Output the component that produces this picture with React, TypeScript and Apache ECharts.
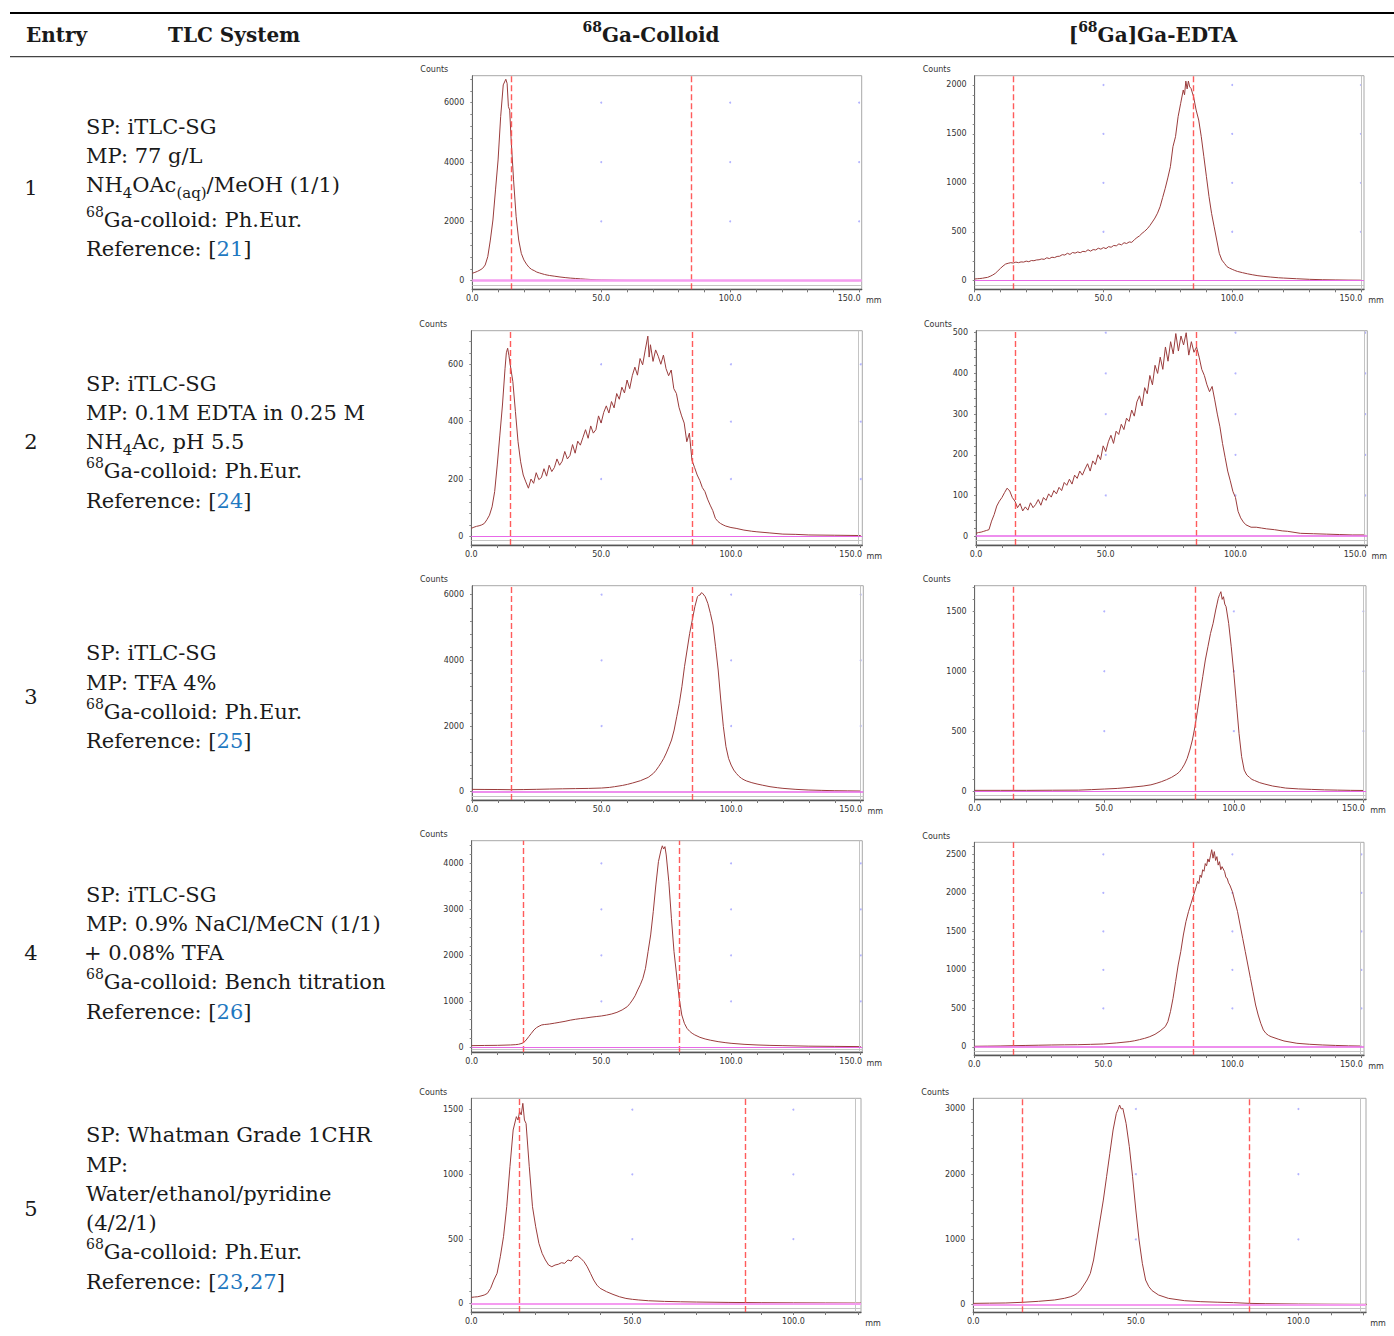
import React, { useEffect, useRef } from "react";
import * as echarts from "echarts";

type Pt = [number, number];

// ---------------- DATA (mm, counts) ----------------
const colloid1: Pt[] = [[0,250],[1,280],[2,315],[3,360],[4,415],[5,530],[6,810],[7,1370],[8,2045],[9,3060],[10,4070],[11,5530],[12,6600],[13,6790],[13.5,6650],[14,5870],[14.5,5750],[15,4850],[16,3400],[17,2160],[18,1370],[19,920],[20,700],[21,560],[22,450],[23,380],[24,340],[25,290],[26,262],[27,235],[28,210],[29,190],[30,175],[32,150],[34,125],[36,105],[38,88],[40,75],[42,62],[44,50],[46,40],[48,30],[50,25],[53,20],[56,14],[60,10],[70,8],[80,6],[90,6],[100,5],[110,5],[120,4],[130,4],[140,3],[150,3]];
const edta1: Pt[] = [[0,17],[1,20],[2,22],[3,25],[4,30],[5,34],[6,45],[7,58],[8,75],[9,100],[10,126],[11,150],[12,170],[13,178],[14,184],[15,180],[16,190],[17,184],[18,192],[19,190],[20,200],[21,194],[22,206],[23,204],[24,212],[25,214],[26,222],[27,218],[28,234],[29,226],[30,240],[31,236],[32,248],[33,250],[34,266],[35,262],[36,280],[37,268],[38,288],[39,282],[40,294],[41,286],[42,300],[43,296],[44,316],[45,302],[46,318],[47,314],[48,332],[49,322],[50,338],[51,328],[52,348],[53,342],[54,360],[55,356],[56,376],[57,366],[58,388],[59,380],[60,396],[61,392],[62,418],[63,440],[64,458],[65,484],[66,505],[67,530],[68,562],[69,600],[70,640],[71,690],[72,756],[73,850],[74,944],[75,1050],[76,1165],[77,1370],[78,1472],[79,1676],[80,1813],[81,1949],[81.5,1900],[82,2040],[82.5,1960],[83,2040],[83.5,1980],[84,1966],[85,1881],[86,1744],[87,1642],[88,1472],[89,1268],[90,1063],[91,859],[92,688],[93,552],[94,416],[95,279],[96,211],[97,177],[98,143],[99,128],[100,116],[101,105],[102,95],[104,82],[106,70],[108,60],[110,51],[112,45],[115,37],[118,30],[120,27],[125,20],[130,14],[135,10],[140,8],[145,6],[150,5]];
const colloid2: Pt[] = [[0,28],[1,32],[2,35],[3,37],[4,40],[5,45],[6,58],[7,74],[8,103],[9,156],[10,249],[11,353],[12,458],[13,586],[13.5,640],[14,656],[14.5,630],[15,598],[16,540],[17,435],[18,330],[19,260],[20,214],[21,190],[22,168],[23,200],[24,185],[25,222],[26,198],[27,205],[28,236],[29,210],[30,248],[31,226],[32,240],[33,270],[34,248],[35,262],[36,296],[37,270],[38,282],[39,320],[40,290],[41,332],[42,318],[43,345],[44,372],[45,342],[46,385],[47,360],[48,372],[49,420],[50,395],[51,432],[52,455],[53,430],[54,470],[55,448],[56,498],[57,478],[58,520],[59,500],[60,545],[61,515],[62,560],[63,590],[64,562],[65,620],[66,598],[67,650],[68,698],[68.5,625],[69,668],[70,610],[71,650],[72,628],[73,600],[74,632],[75,585],[76,560],[77,580],[78,515],[79,498],[80,450],[81,420],[82,395],[83,330],[84,360],[85,265],[86,240],[87,214],[88,195],[89,170],[90,156],[91,130],[92,109],[93,90],[94,63],[95,52],[96,45],[97,40],[98,36],[100,31],[102,28],[105,22],[108,18],[110,16],[115,12],[120,8],[125,7],[130,5],[140,4],[150,3]];
const edta2: Pt[] = [[0,7],[1,9],[2,10],[3,12],[4,14],[5,16],[6,37],[7,53],[8,74],[9,86],[10,95],[11,107],[12,118],[13,111],[14,95],[15,86],[16,70],[17,80],[18,62],[19,72],[20,64],[21,82],[22,70],[23,78],[24,90],[25,76],[26,95],[27,88],[28,104],[29,96],[30,112],[31,104],[32,120],[33,112],[34,132],[35,125],[36,140],[37,128],[38,150],[39,142],[40,160],[41,150],[42,165],[43,178],[44,160],[45,185],[46,176],[47,200],[48,188],[49,222],[50,208],[51,232],[52,248],[53,228],[54,258],[55,250],[56,275],[57,262],[58,290],[59,282],[60,310],[61,295],[62,330],[63,345],[64,320],[65,365],[66,350],[67,395],[68,372],[69,420],[70,400],[71,440],[72,410],[73,465],[74,430],[75,478],[76,448],[77,498],[78,455],[79,492],[80,470],[81,500],[82,445],[83,478],[84,452],[85,465],[86,440],[87,410],[88,395],[89,372],[90,355],[91,368],[92,335],[93,300],[94,269],[95,228],[96,194],[97,160],[98,136],[99,110],[100,95],[101,61],[102,45],[103,35],[104,28],[106,22],[108,22],[110,20],[112,18],[115,16],[118,13],[120,12],[125,7],[130,6],[135,5],[140,4],[145,3],[150,3]];
const colloid3: Pt[] = [[0,71],[5,68],[10,66],[15,61],[20,65],[25,72],[30,81],[35,88],[40,94],[45,100],[50,112],[53,130],[55,152],[58,190],[60,223],[62,265],[65,335],[68,436],[70,558],[71,650],[72,761],[73,880],[74,1015],[75,1180],[76,1371],[77,1574],[78,1878],[79,2284],[80,2690],[81,3198],[82,3807],[83,4315],[84,4822],[85,5228],[86,5635],[87,5939],[87.5,5980],[88,5990],[88.5,6060],[89,6041],[89.5,5990],[90,5939],[91,5736],[92,5431],[93,5076],[94,4416],[95,3706],[96,2792],[97,1980],[98,1371],[99,1015],[100,812],[101,660],[102,558],[103,470],[104,406],[105,360],[106,325],[108,274],[110,234],[112,200],[115,152],[118,120],[120,102],[125,71],[130,51],[135,40],[140,30],[145,25],[150,20]];
const edta3: Pt[] = [[0,6],[10,6],[20,6],[30,7],[40,8],[45,12],[50,17],[55,22],[60,31],[65,42],[68,52],[70,64],[72,78],[74,95],[76,115],[78,142],[79,160],[80,189],[81,225],[82,273],[83,342],[84,426],[85,537],[86,676],[87,815],[88,955],[89,1094],[90,1205],[91,1316],[92,1400],[93,1511],[93.5,1560],[94,1609],[94.5,1640],[95,1664],[95.5,1600],[96,1622],[96.5,1560],[97,1539],[98,1400],[99,1205],[100,982],[101,732],[102,481],[103,287],[104,175],[105,134],[106,115],[107,97],[108,88],[110,70],[112,58],[115,42],[118,32],[120,25],[125,18],[130,14],[135,10],[140,8],[145,6],[150,5]];
const colloid4: Pt[] = [[0,36],[5,40],[10,43],[15,51],[17,58],[18,65],[19,80],[20,101],[21,159],[22,232],[23,304],[24,377],[25,428],[26,460],[27,486],[28,495],[29,500],[30,507],[32,525],[34,545],[36,565],[38,590],[40,609],[42,625],[44,638],[46,655],[48,668],[50,681],[52,700],[54,725],[56,760],[58,812],[60,884],[61,950],[62,1029],[63,1120],[64,1246],[65,1360],[66,1500],[67,1717],[68,2080],[69,2442],[70,2949],[71,3529],[72,4036],[73,4290],[73.5,4380],[74,4310],[74.5,4362],[75,4181],[76,3601],[77,2804],[78,2080],[79,1572],[80,1065],[81,703],[82,522],[83,413],[84,350],[85,304],[86,270],[88,217],[90,181],[92,155],[95,123],[98,100],[100,87],[105,65],[110,51],[115,42],[120,36],[130,25],[140,20],[150,15]];
const edta4: Pt[] = [[0,9],[5,11],[10,13],[15,17],[20,20],[25,23],[30,26],[35,28],[40,30],[45,34],[50,39],[55,52],[60,69],[62,80],[64,95],[65,104],[66,112],[68,134],[70,164],[72,208],[74,264],[75,329],[76,458],[77,631],[78,848],[79,1064],[80,1237],[81,1453],[82,1626],[83,1756],[84,1864],[85,1972],[86,2080],[86.5,2150],[87,2120],[87.5,2230],[88,2200],[88.5,2300],[89,2280],[89.5,2380],[90,2350],[90.5,2440],[91,2400],[91.5,2480],[92,2560],[92.5,2450],[93,2535],[93.5,2420],[94,2470],[94.5,2360],[95,2405],[95.5,2300],[96,2340],[97,2275],[97.5,2200],[98,2189],[98.5,2130],[99,2102],[100,2016],[101,1886],[102,1756],[103,1583],[104,1410],[105,1237],[106,1064],[107,891],[108,718],[109,545],[110,415],[111,307],[112,221],[113,177],[114,150],[115,134],[118,99],[120,78],[125,48],[130,35],[135,26],[140,20],[145,15],[150,12]];
const colloid5: Pt[] = [[0,49],[1,52],[2,54],[3,60],[4,67],[5,80],[6,119],[7,183],[8,235],[9,363],[10,518],[11,750],[12,1059],[13,1343],[14,1446],[14.5,1420],[15,1485],[15.5,1460],[16,1549],[16.5,1420],[17,1394],[18,1059],[19,750],[20,595],[21,466],[22,389],[23,338],[24,299],[25,286],[26,299],[27,305],[28,317],[29,312],[30,338],[31,330],[32,363],[33,369],[34,351],[35,325],[36,286],[37,235],[38,183],[39,144],[40,119],[42,93],[44,72],[46,54],[48,41],[50,34],[52,29],[55,23],[60,18],[65,15],[70,13],[80,10],[90,8],[100,7],[110,6],[121,5]];
const edta5: Pt[] = [[0,20],[5,23],[10,26],[15,36],[20,51],[25,72],[28,97],[30,123],[31,145],[32,174],[33,225],[34,301],[35,378],[36,480],[37,685],[38,991],[39,1298],[40,1604],[41,1962],[42,2320],[43,2678],[44,2933],[44.5,2990],[45,3061],[45.5,3000],[46,3010],[47,2780],[48,2422],[49,1962],[50,1451],[51,991],[52,634],[53,378],[54,276],[55,215],[57,148],[60,97],[65,61],[70,46],[75,38],[80,31],[85,20],[90,15],[100,10],[110,7],[121,5]];

// tick labels
const xTicksLong = [0, 50, 100, 150];
const xTicksShort = [0, 50, 100];
const yTicks6000 = [0, 2000, 4000, 6000];
const yTicks2000 = [0, 500, 1000, 1500, 2000];
const yTicks600 = [0, 200, 400, 600];
const yTicks500 = [0, 100, 200, 300, 400, 500];
const yTicks1500 = [0, 500, 1000, 1500];
const yTicks4000 = [0, 1000, 2000, 3000, 4000];
const yTicks2500 = [0, 500, 1000, 1500, 2000, 2500];
const yTicks3000 = [0, 1000, 2000, 3000];

// Rf window markers (mm)
const window15_85 = [15, 85];
const window20_80 = [20, 80];

// table text
const headerTexts = ["Entry", "TLC System", "{sup|68}Ga-Colloid", "[{sup|68}Ga]Ga-EDTA"];
const entryLabels = ["1", "2", "3", "4", "5"];
const tlcRows: string[][] = [
  ["SP: iTLC-SG", "MP: 77 g/L", "NH{sub|4}OAc{sub|(aq)}/MeOH (1/1)", "{sup|68}Ga-colloid: Ph.Eur.", "Reference: [{ref|21}]"],
  ["SP: iTLC-SG", "MP: 0.1M EDTA in 0.25 M", "NH{sub|4}Ac, pH 5.5", "{sup|68}Ga-colloid: Ph.Eur.", "Reference: [{ref|24}]"],
  ["SP: iTLC-SG", "MP: TFA 4%", "{sup|68}Ga-colloid: Ph.Eur.", "Reference: [{ref|25}]"],
  ["SP: iTLC-SG", "MP: 0.9% NaCl/MeCN (1/1)", "+ 0.08% TFA", "{sup|68}Ga-colloid: Bench titration", "Reference: [{ref|26}]"],
  ["SP: Whatman Grade 1CHR", "MP:", "Water/ethanol/pyridine", "(4/2/1)", "{sup|68}Ga-colloid: Ph.Eur.", "Reference: [{ref|23},{ref|27}]"],
];

// ---------------- LAYOUT ----------------
const rowLineY = [
  [127, 156, 185, 220, 249],
  [384, 413, 442, 471, 501],
  [653, 683, 712, 741],
  [895, 924, 953, 982, 1012],
  [1135, 1165, 1194, 1223, 1252, 1282],
];
const entryY = [188, 442, 697, 953, 1209];

const panels = [
  { data: colloid1, l: 472.3, t: 75.7, r: 861.7, b: 289.3, xMax: 151, yMin: -290, yMax: 6910, yL: yTicks6000, minor: 400, xL: xTicksLong, win: window15_85, zw: 2.5, end: 0 },
  { data: edta1, l: 974.7, t: 75.7, r: 1364, b: 289.3, xMax: 151.2, yMin: -88, yMax: 2095, yL: yTicks2000, minor: 100, xL: xTicksLong, win: window15_85, zw: 1.2, end: 150 },
  { data: colloid2, l: 471.3, t: 330.7, r: 862.3, b: 545, xMax: 150.6, yMin: -30, yMax: 717, yL: yTicks600, minor: 40, xL: xTicksLong, win: window15_85, zw: 1.2, end: 149.2 },
  { data: edta2, l: 976, t: 330.7, r: 1367.3, b: 545, xMax: 150.8, yMin: -21.7, yMax: 505, yL: yTicks500, minor: 20, xL: xTicksLong, win: window15_85, zw: 1.6, end: 149.5 },
  { data: colloid3, l: 472, t: 585.7, r: 863.3, b: 800, xMax: 151, yMin: -253, yMax: 6274, yL: yTicks6000, minor: 400, xL: xTicksLong, win: window15_85, zw: 1.6, end: 150 },
  { data: edta3, l: 974.7, t: 585.7, r: 1366, b: 799.7, xMax: 151, yMin: -72, yMax: 1714, yL: yTicks1500, minor: 100, xL: xTicksLong, win: window15_85, zw: 1.2, end: 150 },
  { data: colloid4, l: 471.7, t: 840.7, r: 862.3, b: 1052, xMax: 150.6, yMin: -102, yMax: 4491, yL: yTicks4000, minor: 200, xL: xTicksLong, win: window20_80, zw: 1.2, end: 149.5 },
  { data: edta4, l: 974.3, t: 842.3, r: 1364, b: 1055, xMax: 151, yMin: -104, yMax: 2656, yL: yTicks2500, minor: 100, xL: xTicksLong, win: window15_85, zw: 1.6, end: 149.5 },
  { data: colloid5, l: 471.3, t: 1098.3, r: 861, b: 1312, xMax: 121, yMin: -64, yMax: 1588, yL: yTicks1500, minor: 100, xL: xTicksShort, win: window15_85, zw: 2.2, end: 119.2 },
  { data: edta5, l: 973.3, t: 1098.3, r: 1366, b: 1312.3, xMax: 120.8, yMin: -117, yMax: 3164, yL: yTicks3000, minor: 200, xL: xTicksShort, win: window15_85, zw: 2.2, end: 119 },
];

const SERIF = '"DejaVu Serif", "Liberation Serif", serif';
const SANS = '"DejaVu Sans", "Liberation Sans", Arial, sans-serif';
const TXT = "#1a1a1a";
const LINK = "#1f78c1";
const TICK_FS = 8;

function richStyles(size: number, bold: boolean) {
  const fw = bold ? "bold" : "normal";
  return {
    sup: { fontSize: Math.round(size * 0.68), fontFamily: SERIF, fontWeight: fw, fill: TXT, verticalAlign: "top", lineHeight: 14 },
    sub: { fontSize: Math.round(size * 0.72), fontFamily: SERIF, fontWeight: fw, fill: TXT, verticalAlign: "bottom", lineHeight: 13 },
    ref: { fontSize: size, fontFamily: SERIF, fontWeight: fw, fill: LINK, lineHeight: 30 },
  };
}

function textEl(text: string, x: number, y: number, size: number, bold: boolean, align: string) {
  return {
    type: "text",
    x,
    y,
    silent: true,
    style: {
      text,
      fontFamily: SERIF,
      fontSize: size,
      fontWeight: bold ? "bold" : "normal",
      fill: TXT,
      align,
      verticalAlign: "middle",
      lineHeight: 30,
      rich: richStyles(size, bold),
    },
  };
}

function buildOption() {
  const graphic: any[] = [];
  graphic.push({ type: "rect", shape: { x: 10, y: 12, width: 1384, height: 2 }, style: { fill: "#000" }, silent: true });
  graphic.push({ type: "rect", shape: { x: 10, y: 56, width: 1384, height: 1.3 }, style: { fill: "#444" }, silent: true });
  graphic.push(textEl(headerTexts[0], 26, 35, 20, true, "left"));
  graphic.push(textEl(headerTexts[1], 168, 35, 20, true, "left"));
  graphic.push(textEl(headerTexts[2], 651, 35, 20, true, "center"));
  graphic.push(textEl(headerTexts[3], 1153, 35, 20, true, "center"));
  tlcRows.forEach((lines, i) => {
    graphic.push(textEl(entryLabels[i], 31, entryY[i], 21, false, "center"));
    lines.forEach((ln, j) => {
      const x = ln.startsWith("+") ? 84 : 86;
      graphic.push(textEl(ln, x, rowLineY[i][j], 21, false, "left"));
    });
  });
  panels.forEach((p) => {
    graphic.push({ type: "text", x: p.l - 38, y: p.t - 6, silent: true, style: { text: "Counts", fontFamily: SANS, fontSize: TICK_FS, fill: "#333", align: "center", verticalAlign: "middle" } });
    graphic.push({ type: "text", x: p.r + 12, y: p.b + 11, silent: true, style: { text: "mm", fontFamily: SANS, fontSize: TICK_FS, fill: "#333", align: "center", verticalAlign: "middle" } });
  });

  const grid = panels.map((p) => ({
    left: p.l,
    top: p.t,
    width: p.r - p.l,
    height: p.b - p.t,
    show: true,
    borderColor: "#a8a8a8",
    borderWidth: 1,
    containLabel: false,
    outerBoundsMode: "none",
  }));

  const xAxis = panels.map((p, i) => {
    const ticks: number[] = [];
    for (let v = 0; v <= p.xMax; v += 10) ticks.push(v);
    return {
      gridIndex: i,
      type: "value",
      min: 0,
      max: p.xMax,
      axisLine: { show: true, onZero: false, lineStyle: { color: "#555", width: 1.3 } },
      axisTick: { show: true, customValues: ticks, length: 3, lineStyle: { color: "#777", width: 1 } },
      axisLabel: {
        customValues: p.xL,
        formatter: (v: number) => (v === 150 ? "{r|150.0}" : v.toFixed(1)),
        rich: { r: { fontSize: TICK_FS, color: "#333", fontFamily: SANS, padding: [0, 20, 0, 0] } },
        fontSize: TICK_FS,
        color: "#333",
        fontFamily: SANS,
        margin: 5,
      },
      splitLine: { show: false },
    };
  });

  const yAxis = panels.map((p, i) => {
    const ticks: number[] = [];
    for (let v = 0; v <= p.yMax; v += p.minor) ticks.push(v);
    return {
      gridIndex: i,
      type: "value",
      min: p.yMin,
      max: p.yMax,
      axisLine: { show: true, onZero: false, lineStyle: { color: "#666", width: 1 } },
      axisTick: { show: true, customValues: ticks, length: 2, lineStyle: { color: "#888", width: 1 } },
      axisLabel: { customValues: p.yL, formatter: (v: number) => String(v), fontSize: TICK_FS, color: "#333", fontFamily: SANS, margin: 8 },
      splitLine: { show: false },
    };
  });

  const series: any[] = [];
  panels.forEach((p, i) => {
    const dots: number[][] = [];
    [50, 100, 150].forEach((x) => {
      if (x <= p.xMax) p.yL.forEach((y) => { if (y !== 0) dots.push([x, y]); });
    });
    series.push({
      type: "scatter", xAxisIndex: i, yAxisIndex: i, data: dots, symbolSize: 2,
      itemStyle: { color: "#a0a0ff" }, silent: true, z: 1,
    });
    const grayLines: any[] = [{ yAxis: p.yMin * 0.5 }];
    if (p.end) grayLines.push({ xAxis: p.end });
    series.push({
      type: "line", xAxisIndex: i, yAxisIndex: i, data: [], silent: true, z: 2,
      markLine: { silent: true, symbol: ["none", "none"], label: { show: false }, animation: false,
        lineStyle: { color: "#c4c4c4", type: "solid", width: 1 }, emphasis: { disabled: true }, data: grayLines },
    });
    series.push({
      type: "line", xAxisIndex: i, yAxisIndex: i, data: p.data, showSymbol: false, symbol: "none",
      lineStyle: { color: "#9a3c3c", width: 1 }, silent: true, z: 3,
    });
    series.push({
      type: "line", xAxisIndex: i, yAxisIndex: i, data: [], silent: true, z: 4,
      markLine: { silent: true, symbol: ["none", "none"], label: { show: false }, animation: false,
        lineStyle: { color: "#ff4a4a", type: [6, 3], width: 1.4, opacity: 0.9 }, emphasis: { disabled: true },
        data: p.win.map((x) => ({ xAxis: x })) },
    });
    series.push({
      type: "line", xAxisIndex: i, yAxisIndex: i, data: [], silent: true, z: 5,
      markLine: { silent: true, symbol: ["none", "none"], label: { show: false }, animation: false,
        lineStyle: { color: p.zw > 2 ? "#f59cf0" : "#e868e8", type: "solid", width: p.zw }, emphasis: { disabled: true },
        data: [{ yAxis: 0 }] },
    });
  });

  return {
    animation: false,
    backgroundColor: "#ffffff",
    grid,
    xAxis,
    yAxis,
    series,
    graphic: { elements: graphic },
  };
}

export default function App() {
  const ref = useRef<HTMLDivElement>(null);
  useEffect(() => {
    if (!ref.current) return;
    const chart = echarts.init(ref.current, null, { renderer: "svg" });
    chart.setOption(buildOption() as any);
    return () => chart.dispose();
  }, []);
  return (
    <div
      ref={ref}
      style={{ position: "absolute", left: 0, top: 0, width: 1394, height: 1336, background: "#fff" }}
    />
  );
}
